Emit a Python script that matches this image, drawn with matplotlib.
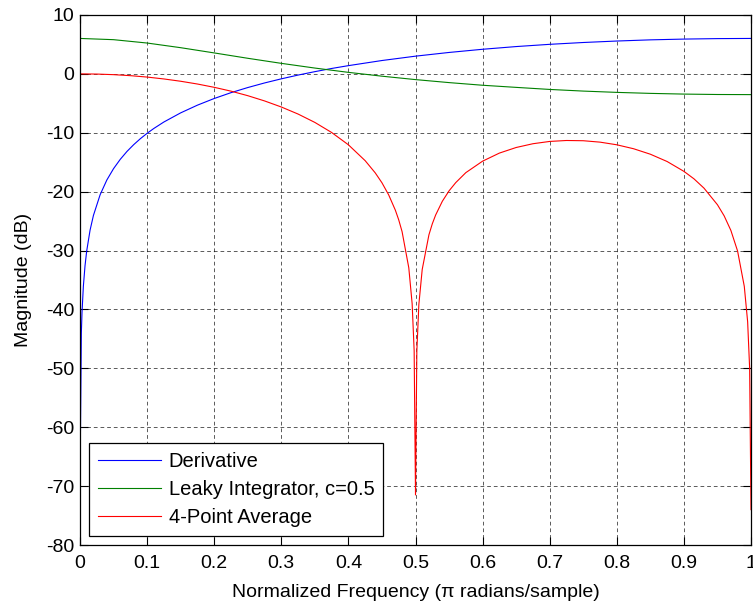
import matplotlib
matplotlib.use("Agg")
import matplotlib.pyplot as plt

# frequency points (x pi rad/sample) and magnitudes in dB
f_deriv = [0.0, 0.002, 0.003, 0.005, 0.0075, 0.01, 0.015, 0.02, 0.03, 0.04,
           0.05, 0.06, 0.07, 0.08, 0.09, 0.1, 0.11, 0.125, 0.15, 0.175, 0.2,
           0.225, 0.25, 0.275, 0.3, 0.325, 0.35, 0.375, 0.4, 0.45, 0.5, 0.55,
           0.6, 0.65, 0.7, 0.75, 0.8, 0.85, 0.9, 0.95, 1.0]
deriv = [-69.5, -44.04, -40.51, -36.08, -32.56, -30.06, -26.54, -24.04, -20.52,
         -18.02, -16.09, -14.51, -13.17, -12.02, -11.00, -10.09, -9.27, -8.17,
         -6.62, -5.31, -4.18, -3.19, -2.32, -1.54, -0.84, -0.20, 0.38, 0.92,
         1.40, 2.27, 3.01, 3.64, 4.18, 4.64, 5.02, 5.33, 5.58, 5.78, 5.91, 5.99,
         6.02]

f_leaky = [0.0, 0.05, 0.1, 0.15, 0.2, 0.25, 0.3, 0.35, 0.4, 0.45, 0.5, 0.55,
           0.6, 0.65, 0.7, 0.75, 0.8, 0.85, 0.9, 0.95, 1.0]
leaky = [6.02, 5.81, 5.24, 4.45, 3.56, 2.65, 1.79, 0.99, 0.26, -0.39, -0.97,
         -1.48, -1.93, -2.29, -2.64, -2.92, -3.14, -3.31, -3.43, -3.50, -3.52]

f_avg = [0.0, 0.025, 0.05, 0.075, 0.1, 0.125, 0.15, 0.175, 0.2, 0.225, 0.25,
         0.275, 0.3, 0.325, 0.35, 0.375, 0.4, 0.425, 0.44, 0.45, 0.46, 0.47,
         0.475, 0.48, 0.49, 0.495, 0.498, 0.5, 0.502, 0.505, 0.51, 0.52, 0.525,
         0.53, 0.54, 0.55, 0.56, 0.575, 0.6, 0.625, 0.65, 0.675, 0.7, 0.725,
         0.75, 0.775, 0.8, 0.825, 0.85, 0.875, 0.9, 0.915, 0.93, 0.95, 0.96,
         0.97, 0.98, 0.99, 0.995, 0.998, 1.0]
avg4 = [0.0, -0.03, -0.13, -0.30, -0.54, -0.86, -1.25, -1.72, -2.28, -2.93,
        -3.70, -4.59, -5.62, -6.82, -8.24, -9.95, -12.04, -14.74, -16.81,
        -18.49, -20.54, -23.15, -24.79, -26.79, -32.93, -39.02, -47.02, -71.5,
        -47.07, -39.16, -33.21, -27.33, -25.47, -23.97, -21.63, -19.86, -18.46,
        -16.77, -14.82, -13.45, -12.50, -11.86, -11.47, -11.31, -11.35, -11.59,
        -12.04, -12.71, -13.64, -14.88, -16.55, -17.82, -19.41, -22.22, -24.11,
        -26.58, -30.08, -36.08, -42.10, -50.06, -74.0]

x_ticks = [0, 0.1, 0.2, 0.3, 0.4, 0.5, 0.6, 0.7, 0.8, 0.9, 1]
x_labels = ["0", "0.1", "0.2", "0.3", "0.4", "0.5", "0.6", "0.7", "0.8", "0.9", "1"]
y_ticks = [-80, -70, -60, -50, -40, -30, -20, -10, 0, 10]

plt.rcParams['font.family'] = ['Liberation Sans', 'DejaVu Sans']
plt.rcParams['font.size'] = 14
plt.rcParams['axes.unicode_minus'] = False

fig = plt.figure(figsize=(7.53, 6.03), dpi=100)
ax = fig.add_axes([80 / 753, 1 - 545 / 603, 671 / 753, 530 / 603])

ax.plot(f_deriv, deriv, color=(0, 0, 1), lw=0.8, label="Derivative")
ax.plot(f_leaky, leaky, color=(0, 0.5, 0), lw=0.8, label="Leaky Integrator, c=0.5")
ax.plot(f_avg, avg4, color=(1, 0, 0), lw=0.8, label="4-Point Average")

ax.set_xlim(0, 1)
ax.set_ylim(-80, 10)
ax.set_xticks(x_ticks)
ax.set_xticklabels(x_labels)
ax.set_yticks(y_ticks)
ax.tick_params(direction='in', top=True, right=True, length=6, width=0.8, pad=4)
ax.tick_params(axis='x', pad=7)
ax.grid(True, color='black', linestyle=(0, (4.5, 3.5)), linewidth=0.6, alpha=0.75)
for s in ax.spines.values():
    s.set_linewidth(0.9)

ax.set_xlabel("Normalized Frequency (π radians/sample)", labelpad=9)
ax.set_ylabel("Magnitude (dB)", labelpad=10)

leg = ax.legend(loc='lower left', fancybox=False, framealpha=1, edgecolor='black',
                borderaxespad=0.45, handlelength=3.1, handletextpad=0.4,
                borderpad=0.45, labelspacing=0.44, fontsize=14.5)
leg.get_frame().set_linewidth(0.9)

fig.savefig("out.png", dpi=100)
